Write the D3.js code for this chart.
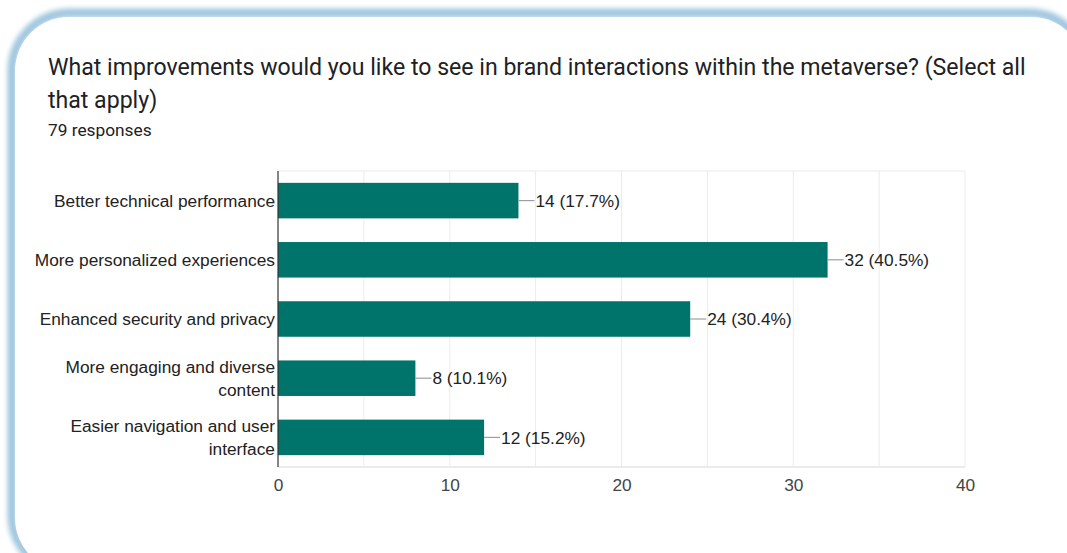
<!DOCTYPE html>
<html>
<head>
<meta charset="utf-8">
<script src="https://cdn.jsdelivr.net/npm/d3@7"></script>
<style>
  html, body { margin: 0; padding: 0; background: #ffffff; }
  svg { display: block; font-family: Roboto, Arial, sans-serif; }
</style>
</head>
<body>
<svg id="chart" width="1067" height="553"></svg>
<script>
// Survey answers and their response counts
const categories = [
  ["Better technical performance"],
  ["More personalized experiences"],
  ["Enhanced security and privacy"],
  ["More engaging and diverse", "content"],
  ["Easier navigation and user", "interface"]
];
const counts = [14, 32, 24, 8, 12];
const percents = ["17.7%", "40.5%", "30.4%", "10.1%", "15.2%"];
const xTicks = [0, 10, 20, 30, 40];
const xMinorTicks = [5, 15, 25, 35];
const totalResponses = 79;
const titleLines = [
  "What improvements would you like to see in brand interactions within the metaverse? (Select all",
  "that apply)"
];

const svg = d3.select("#chart");
const chartFont = "'Liberation Sans', Arial, Helvetica, sans-serif";
const labelSize = 17.3;

// Card with soft blue rim
const defs = svg.append("defs");
const blur = defs.append("filter").attr("id", "rim").attr("x", "-5%").attr("y", "-5%").attr("width", "110%").attr("height", "110%");
blur.append("feGaussianBlur").attr("stdDeviation", 2.5);

svg.append("rect")
  .attr("x", 12).attr("y", 13).attr("width", 1075).attr("height", 560)
  .attr("rx", 58).attr("ry", 58)
  .attr("fill", "none").attr("stroke", "#9fc6df").attr("stroke-width", 9)
  .attr("filter", "url(#rim)");
svg.append("rect")
  .attr("x", 15).attr("y", 17).attr("width", 1070).attr("height", 555)
  .attr("rx", 54).attr("ry", 54)
  .attr("fill", "#ffffff");

// Heading
const head = svg.append("g").attr("fill", "#202124");
titleLines.forEach((t, i) => {
  head.append("text")
    .attr("x", 48).attr("y", 75 + i * 33)
    .attr("font-size", 23.1)
    .text(t);
});
head.append("text")
  .attr("x", 48).attr("y", 136)
  .attr("font-size", 17.3)
  .text(`${totalResponses} responses`);

// Plot area
const plotLeft = 278, plotRight = 965, plotTop = 171, plotBottom = 467;

const x = d3.scaleLinear().domain([0, 40]).range([plotLeft, plotRight]);
const y = d3.scaleBand()
  .domain(d3.range(categories.length))
  .range([plotTop, plotBottom])
  .paddingInner(0.4)
  .paddingOuter(0.2);

const grid = svg.append("g");
grid.selectAll("line.minor")
  .data(xMinorTicks.concat(xTicks.slice(1)))
  .join("line")
  .attr("x1", d => x(d)).attr("x2", d => x(d))
  .attr("y1", plotTop).attr("y2", plotBottom)
  .attr("stroke", "#ebebeb").attr("stroke-width", 1);
grid.append("line")
  .attr("x1", plotLeft).attr("x2", plotRight)
  .attr("y1", plotTop).attr("y2", plotTop)
  .attr("stroke", "#ebebeb");
grid.append("line")
  .attr("x1", plotLeft).attr("x2", plotRight)
  .attr("y1", plotBottom).attr("y2", plotBottom)
  .attr("stroke", "#ebebeb").attr("stroke-width", 2);

// Bars
svg.append("g")
  .selectAll("rect")
  .data(counts)
  .join("rect")
  .attr("x", x(0))
  .attr("y", (d, i) => y(i))
  .attr("width", d => x(d) - x(0))
  .attr("height", y.bandwidth())
  .attr("fill", "#00736a");

// Value annotations with leader lines
const ann = svg.append("g").attr("font-family", chartFont);
counts.forEach((d, i) => {
  const cy = y(i) + y.bandwidth() / 2;
  ann.append("line")
    .attr("x1", x(d)).attr("x2", x(d) + 16)
    .attr("y1", cy).attr("y2", cy)
    .attr("stroke", "#9e9e9e").attr("stroke-width", 1.2);
  ann.append("text")
    .attr("x", x(d) + 17).attr("y", cy)
    .attr("dy", "0.36em")
    .attr("font-size", labelSize)
    .attr("fill", "#222222")
    .text(`${d} (${percents[i]})`);
});

// Vertical baseline axis
svg.append("line")
  .attr("x1", plotLeft).attr("x2", plotLeft)
  .attr("y1", plotTop).attr("y2", plotBottom)
  .attr("stroke", "#333333").attr("stroke-width", 1.2);

// Category labels
const cat = svg.append("g")
  .attr("fill", "#222222")
  .attr("font-size", labelSize)
  .attr("font-family", chartFont)
  .attr("text-anchor", "end");
categories.forEach((lines, i) => {
  const cy = y(i) + y.bandwidth() / 2;
  const n = lines.length;
  lines.forEach((t, j) => {
    cat.append("text")
      .attr("x", plotLeft - 3)
      .attr("y", cy + (j - (n - 1) / 2) * 23)
      .attr("dy", "0.36em")
      .text(t);
  });
});

// X axis tick labels
const xAxis = d3.axisBottom(x).tickValues(xTicks).tickSize(0).tickPadding(12);
const gx = svg.append("g").attr("transform", `translate(0,${plotBottom})`).call(xAxis);
gx.select(".domain").remove();
gx.selectAll("text")
  .attr("font-size", labelSize)
  .attr("font-family", chartFont)
  .attr("fill", "#444444");
</script>
</body>
</html>
